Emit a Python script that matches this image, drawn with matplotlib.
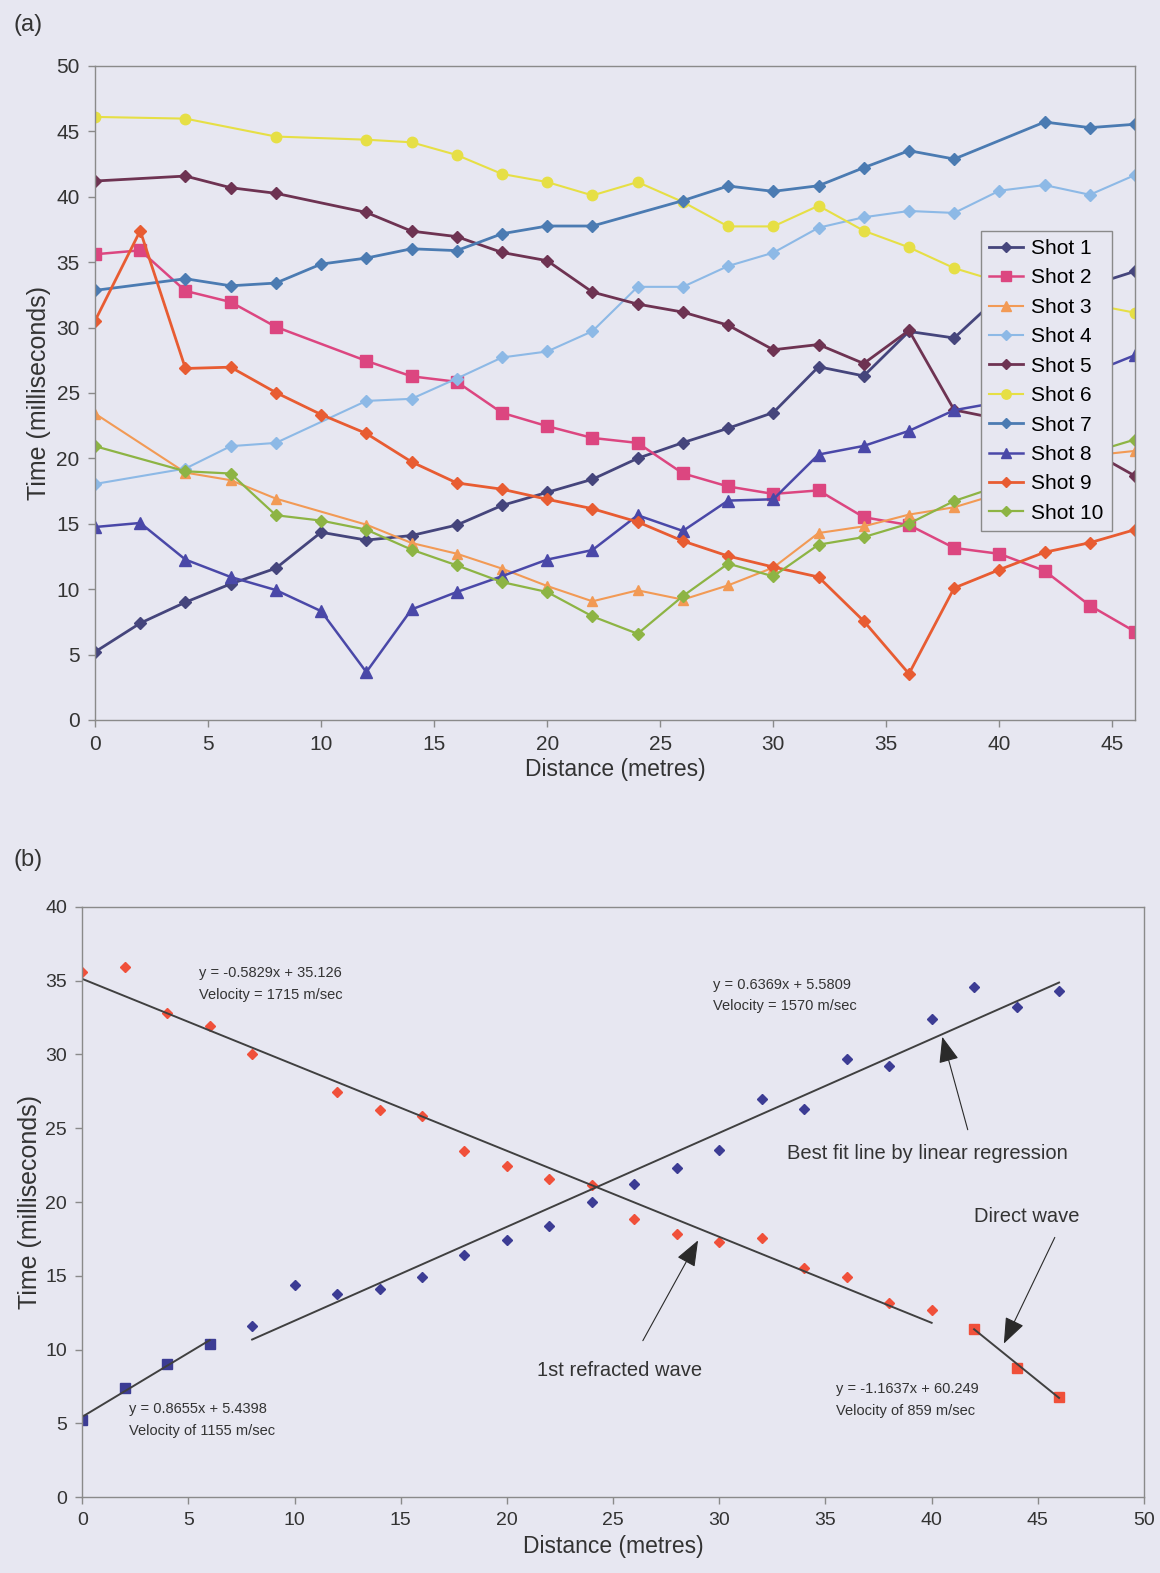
import numpy as np
import matplotlib.pyplot as plt

plt.rcParams['font.family'] = ['Liberation Sans', 'DejaVu Sans']

# tiempos de llegada (ms), distancia en metros
x_s1 = [0, 2, 4, 6, 8, 10, 12, 14, 16, 18, 20, 22, 24, 26, 28, 30, 32, 34, 36, 38, 40, 42, 44, 46]
t_s1 = [5.2, 7.4, 9.0, 10.4, 11.6, 14.35, 13.75, 14.1, 14.9, 16.4, 17.4, 18.4, 20.0, 21.2, 22.3, 23.5,
        27.0, 26.3, 29.7, 29.2, 32.4, 34.6, 33.2, 34.3]

x_s2 = [0, 2, 4, 6, 8, 12, 14, 16, 18, 20, 22, 24, 26, 28, 30, 32, 34, 36, 38, 40, 42, 44, 46]
t_s2 = [35.6, 35.9, 32.8, 31.95, 30.05, 27.45, 26.27, 25.85, 23.48, 22.46, 21.56, 21.18, 18.85, 17.85,
        17.28, 17.55, 15.5, 14.9, 13.15, 12.7, 11.4, 8.75, 6.75]

x_s3 = [0, 4, 6, 8, 12, 14, 16, 18, 20, 22, 24, 26, 28, 30, 32, 34, 36, 38, 40, 42, 44, 46]
t_s3 = [23.42, 18.91, 18.33, 16.92, 14.93, 13.53, 12.71, 11.57, 10.24, 9.07, 9.91, 9.2, 10.29, 11.65,
        14.29, 14.8, 15.7, 16.26, 17.3, 18.8, 20.2, 20.57]

x_s4 = [0, 4, 6, 8, 12, 14, 16, 18, 20, 22, 24, 26, 28, 30, 32, 34, 36, 38, 40, 42, 44, 46]
t_s4 = [18.04, 19.22, 20.93, 21.18, 24.39, 24.55, 26.1, 27.71, 28.17, 29.72, 33.11, 33.11, 34.7, 35.72,
        37.63, 38.43, 38.91, 38.76, 40.46, 40.89, 40.15, 41.66]

x_s5 = [0, 4, 6, 8, 12, 14, 16, 18, 20, 22, 24, 26, 28, 30, 32, 34, 36, 38, 40, 42, 44, 46]
t_s5 = [41.2, 41.58, 40.69, 40.26, 38.8, 37.37, 36.95, 35.74, 35.11, 32.71, 31.79, 31.18, 30.18, 28.3,
        28.7, 27.25, 29.78, 23.7, 23.0, 22.0, 20.6, 18.65]

x_s6 = [0, 4, 8, 12, 14, 16, 18, 20, 22, 24, 26, 28, 30, 32, 34, 36, 38, 40, 42, 44, 46]
t_s6 = [46.1, 45.97, 44.6, 44.36, 44.16, 43.19, 41.74, 41.12, 40.1, 41.12, 39.6, 37.73, 37.73, 39.31,
        37.4, 36.13, 34.54, 33.5, 32.5, 31.8, 31.13]

x_s7 = [0, 4, 6, 8, 10, 12, 14, 16, 18, 20, 22, 26, 28, 30, 32, 34, 36, 38, 42, 44, 46]
t_s7 = [32.84, 33.73, 33.19, 33.4, 34.85, 35.31, 36.02, 35.88, 37.17, 37.76, 37.76, 39.7, 40.82, 40.41,
        40.84, 42.22, 43.52, 42.88, 45.71, 45.28, 45.54]

x_s8 = [0, 2, 4, 6, 8, 10, 12, 14, 16, 18, 20, 22, 24, 26, 28, 30, 32, 34, 36, 38, 40, 42, 44, 46]
t_s8 = [14.75, 15.06, 12.26, 10.93, 9.93, 8.32, 3.66, 8.45, 9.78, 10.99, 12.26, 12.99, 15.65, 14.45,
        16.77, 16.87, 20.29, 20.95, 22.1, 23.68, 24.3, 25.3, 26.5, 27.89]

x_s9 = [0, 2, 4, 6, 8, 10, 12, 14, 16, 18, 20, 22, 24, 26, 28, 30, 32, 34, 36, 38, 40, 42, 44, 46]
t_s9 = [30.51, 37.4, 26.87, 26.97, 25.03, 23.35, 21.9, 19.73, 18.12, 17.64, 16.87, 16.15, 15.14, 13.68,
        12.53, 11.69, 10.93, 7.56, 3.53, 10.09, 11.49, 12.82, 13.55, 14.55]

x_s10 = [0, 4, 6, 8, 10, 12, 14, 16, 18, 20, 22, 24, 26, 28, 30, 32, 34, 36, 38, 40, 42, 44, 46]
t_s10 = [20.93, 19.01, 18.84, 15.65, 15.24, 14.55, 13.02, 11.82, 10.54, 9.78, 7.92, 6.59, 9.47, 11.95,
         10.98, 13.4, 13.98, 15.01, 16.74, 17.9, 19.3, 20.4, 21.44]

nombres = ['Shot 1', 'Shot 2', 'Shot 3', 'Shot 4', 'Shot 5', 'Shot 6', 'Shot 7', 'Shot 8', 'Shot 9', 'Shot 10']
equis = [x_s1, x_s2, x_s3, x_s4, x_s5, x_s6, x_s7, x_s8, x_s9, x_s10]
tiempos = [t_s1, t_s2, t_s3, t_s4, t_s5, t_s6, t_s7, t_s8, t_s9, t_s10]

# rectas de regresion (pendiente, ordenada) como aparecen en la grafica (b)
recta_directa1 = (0.8655, 5.4398)
recta_refr1 = (0.6369, 5.5809)
recta_refr2 = (-0.5829, 35.126)
recta_directa2 = (-1.1637, 60.249)

fondo = '#e7e7f1'
colores = ['#45457c', '#dc4680', '#f29a55', '#8db9e6', '#6e3352',
           '#e6df45', '#4b7bb2', '#4a48a8', '#e85c32', '#8db444']
marcas = ['D', 's', '^', 'D', 'D', 'o', 'D', '^', 'D', 'D']
tam = [6, 8, 7.5, 6, 6, 7.5, 6, 8, 6, 6]
grosor = [2.0, 1.8, 1.5, 1.5, 2.0, 1.5, 2.0, 1.8, 2.0, 1.6]

fig = plt.figure(figsize=(11.6, 15.73), dpi=100, facecolor=fondo)


def estilo(ax):
    ax.set_facecolor(fondo)
    for s in ax.spines.values():
        s.set_color('#8a8a8a')
        s.set_linewidth(1.0)
    ax.tick_params(direction='out', length=5, width=1, color='#8a8a8a',
                   labelcolor='#333333', top=False, right=False)


# ---------- (a) ----------
ax1 = fig.add_axes([0.0819, 0.5423, 0.8966, 0.4158])
estilo(ax1)
for k in range(len(nombres)):
    ax1.plot(equis[k], tiempos[k], color=colores[k], marker=marcas[k], ms=tam[k],
             lw=grosor[k], label=nombres[k])
ax1.set_xlim(0, 46)
ax1.set_ylim(0, 50)
ax1.set_xticks(np.arange(0, 46, 5))
ax1.set_yticks(np.arange(0, 51, 5))
ax1.tick_params(labelsize=15, pad=6)
ax1.set_xlabel('Distance (metres)', fontsize=16.5, color='#333333', labelpad=3)
ax1.set_ylabel('Time (milliseconds)', fontsize=18, color='#333333', labelpad=4)
ax1.legend(loc='upper left', bbox_to_anchor=(0.842, 0.764), fontsize=15, frameon=True,
           fancybox=False, edgecolor='#8a8a8a', facecolor=fondo, framealpha=1,
           handlelength=1.6, labelspacing=0.5, borderpad=0.4, handletextpad=0.4,
           markerscale=0.9)
fig.text(0.012, 0.984, '(a)', fontsize=17, color='#333333', va='center')

# ---------- (b) ----------
ax2 = fig.add_axes([0.0709, 0.0483, 0.9153, 0.3751])
estilo(ax2)
azul = '#3c3c94'
rojo = '#f0503a'
ax2.plot(x_s1[:4], t_s1[:4], 's', color=azul, ms=7)
ax2.plot(x_s1[4:], t_s1[4:], 'D', color=azul, ms=5)
ax2.plot(x_s2[:-3], t_s2[:-3], 'D', color=rojo, ms=5)
ax2.plot(x_s2[-3:], t_s2[-3:], 's', color=rojo, ms=7)

gris = '#404040'
for (m, b), xa, xb in [(recta_directa1, x_s1[0], x_s1[3]), (recta_refr1, x_s1[4], x_s1[-1]),
                       (recta_refr2, x_s2[0], x_s2[-4]), (recta_directa2, x_s2[-3], x_s2[-1])]:
    xx = np.array([xa, xb])
    ax2.plot(xx, m * xx + b, color=gris, lw=1.4)

ax2.set_xlim(0, 50)
ax2.set_ylim(0, 40)
ax2.set_xticks(np.arange(0, 51, 5))
ax2.set_yticks(np.arange(0, 41, 5))
ax2.tick_params(labelsize=14, pad=6)
ax2.set_xlabel('Distance (metres)', fontsize=16.5, color='#333333', labelpad=4)
ax2.set_ylabel('Time (milliseconds)', fontsize=18, color='#333333', labelpad=2)
fig.text(0.012, 0.453, '(b)', fontsize=17, color='#333333', va='center')

tc = '#333333'
ax2.text(5.5, 34.8, 'y = -0.5829x + 35.126\nVelocity = 1715 m/sec', fontsize=10.5,
         color=tc, va='center', linespacing=1.7)
ax2.text(29.7, 34.0, 'y = 0.6369x + 5.5809\nVelocity = 1570 m/sec', fontsize=10.5,
         color=tc, va='center', linespacing=1.7)
ax2.text(2.2, 5.2, 'y = 0.8655x + 5.4398\nVelocity of 1155 m/sec', fontsize=10.5,
         color=tc, va='center', linespacing=1.7)
ax2.text(35.5, 6.6, 'y = -1.1637x + 60.249\nVelocity of 859 m/sec', fontsize=10.5,
         color=tc, va='center', linespacing=1.7)

flecha = dict(arrowstyle='-|>,head_length=0.9,head_width=0.35', color='#2a2a2a', lw=0.8,
              shrinkA=0, shrinkB=0, mutation_scale=18)
ax2.text(33.2, 23.3, 'Best fit line by linear regression', fontsize=14.5, color=tc, va='center')
ax2.annotate('', xy=(40.5, 31.2), xytext=(41.7, 24.9), arrowprops=flecha)
ax2.text(42.0, 19.0, 'Direct wave', fontsize=14.5, color=tc, va='center')
ax2.annotate('', xy=(43.4, 10.4), xytext=(45.8, 17.6), arrowprops=flecha)
ax2.text(21.4, 8.6, '1st refracted wave', fontsize=14.5, color=tc, va='center')
ax2.annotate('', xy=(29.0, 17.4), xytext=(26.4, 10.6), arrowprops=flecha)

fig.savefig('out.png', dpi=100, facecolor=fondo)
